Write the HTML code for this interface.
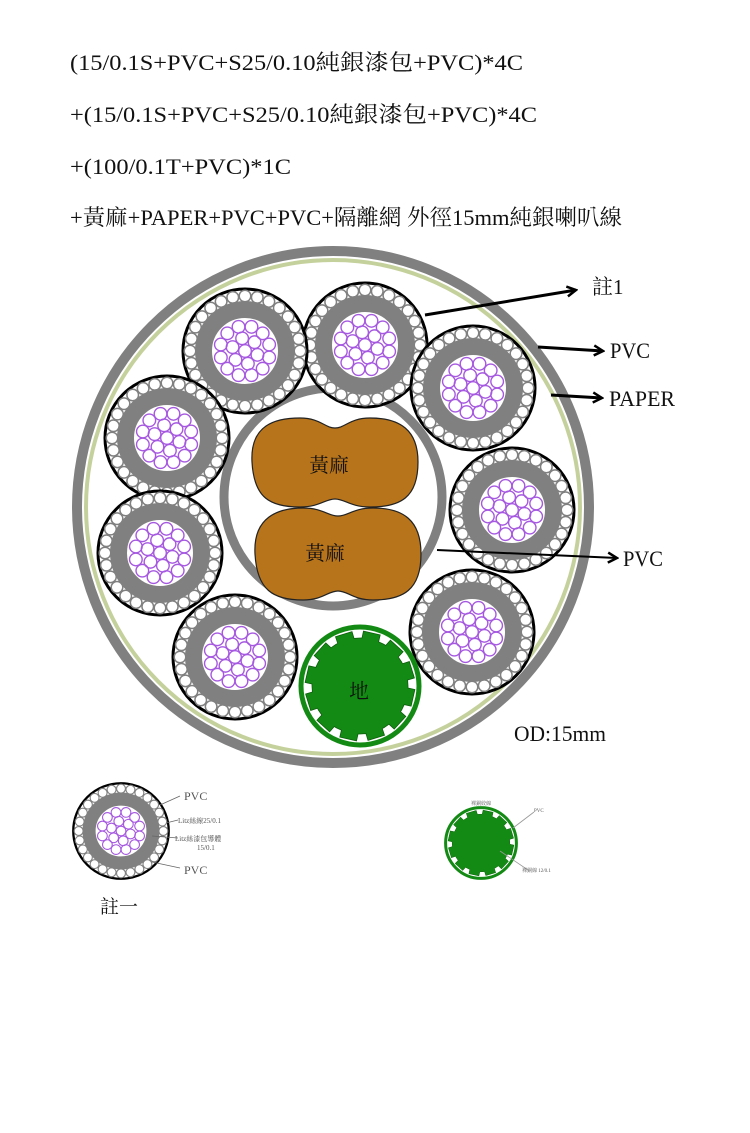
<!DOCTYPE html>
<html><head><meta charset="utf-8"><style>
html,body{margin:0;padding:0;background:#fff;width:750px;height:1133px;overflow:hidden}
svg{display:block}
text{font-family:"Liberation Serif","Noto Serif CJK TC","Noto Serif CJK SC",serif;fill:#111}
</style></head><body>
<svg id="s" width="750" height="1133" viewBox="0 0 750 1133" xmlns="http://www.w3.org/2000/svg">
<defs>
<marker id="ah" markerWidth="12" markerHeight="12" refX="10" refY="6" orient="auto" markerUnits="userSpaceOnUse">
<path d="M1,1 L10,6 L1,11" fill="none" stroke="#000" stroke-width="2.5"/>
</marker>
</defs>
<text x="70" y="70" font-size="22" textLength="453" lengthAdjust="spacingAndGlyphs">(15/0.1S+PVC+S25/0.10純銀漆包+PVC)*4C</text>
<text x="70" y="122" font-size="22" textLength="467" lengthAdjust="spacingAndGlyphs">+(15/0.1S+PVC+S25/0.10純銀漆包+PVC)*4C</text>
<text x="70" y="174" font-size="22" textLength="221" lengthAdjust="spacingAndGlyphs">+(100/0.1T+PVC)*1C</text>
<text x="70" y="225" font-size="22" textLength="552" lengthAdjust="spacingAndGlyphs">+黃麻+PAPER+PVC+PVC+隔離網 外徑15mm純銀喇叭線</text>

<circle cx="333" cy="507" r="256" fill="#fff" stroke="#808080" stroke-width="10"/>
<circle cx="333" cy="507" r="247" fill="none" stroke="#c5d19c" stroke-width="4"/>
<circle cx="333" cy="497" r="109" fill="#fff" stroke="#808080" stroke-width="9"/>
<g id="els"></g>
<path d="M252,462 C250,425 275,418 300,418 C320,418 325,428 335,428 C345,428 350,418 370,418 C400,418 418,430 418,462 C418,498 400,507 370,507 C350,507 345,499 335,499 C325,499 320,507 300,507 C270,507 254,498 252,462 Z" fill="#b8741a" stroke="#222" stroke-width="1.2"/>
<path d="M255,554 C253,517 278,508 303,508 C323,508 328,516 338,516 C348,516 353,508 373,508 C403,508 421,520 421,554 C421,590 403,600 373,600 C353,600 348,591 338,591 C328,591 323,600 303,600 C273,600 257,590 255,554 Z" fill="#b8741a" stroke="#222" stroke-width="1.2"/>
<text x="309" y="472" font-size="20">黃麻</text>
<text x="305" y="560" font-size="20">黃麻</text>
<g id="gnd"></g>
<text x="349" y="698" font-size="20">地</text>

<line x1="425" y1="315" x2="576" y2="290" stroke="#000" stroke-width="3" marker-end="url(#ah)"/>
<text x="592" y="294" font-size="21">註1</text>
<line x1="538" y1="347" x2="603" y2="351" stroke="#000" stroke-width="3" marker-end="url(#ah)"/>
<text x="610" y="358" font-size="22" textLength="40" lengthAdjust="spacingAndGlyphs">PVC</text>
<line x1="551" y1="395" x2="602" y2="398" stroke="#000" stroke-width="3" marker-end="url(#ah)"/>
<text x="609" y="406" font-size="22" textLength="66" lengthAdjust="spacingAndGlyphs">PAPER</text>
<line x1="437" y1="550" x2="617" y2="558" stroke="#000" stroke-width="2" marker-end="url(#ah)"/>
<text x="623" y="566" font-size="22" textLength="40" lengthAdjust="spacingAndGlyphs">PVC</text>
<text x="514" y="741" font-size="22" textLength="92" lengthAdjust="spacingAndGlyphs">OD:15mm</text>

<g id="small"></g>
<line x1="160" y1="805" x2="180" y2="796" stroke="#666" stroke-width="0.8"/>
<text x="184" y="800" font-size="12" style="fill:#555">PVC</text>
<line x1="166" y1="823" x2="178" y2="820" stroke="#666" stroke-width="0.8"/>
<text x="178" y="823" font-size="7" style="fill:#555">Litz絲線25/0.1</text>
<line x1="152" y1="836" x2="178" y2="838" stroke="#666" stroke-width="0.8"/>
<text x="175" y="841" font-size="7" style="fill:#555">Litz絲漆包導體</text>
<text x="197" y="850" font-size="7" style="fill:#555">15/0.1</text>
<line x1="152" y1="862" x2="180" y2="868" stroke="#666" stroke-width="0.8"/>
<text x="184" y="874" font-size="12" style="fill:#555">PVC</text>
<text x="100" y="913" font-size="19">註一</text>

<g id="sg"></g>
<text x="471" y="805" font-size="5" style="fill:#555">裸銅絞線</text>
<line x1="513" y1="828" x2="534" y2="812" stroke="#999" stroke-width="0.8"/>
<text x="534" y="812" font-size="5" style="fill:#555">PVC</text>
<line x1="500" y1="851" x2="528" y2="870" stroke="#999" stroke-width="0.8"/>
<text x="522" y="872" font-size="5" style="fill:#555">裸銅線 12/0.1</text>
</svg>
<script>
var NS="http://www.w3.org/2000/svg";
function el(p,t,a){var e=document.createElementNS(NS,t);for(var k in a)e.setAttribute(k,a[k]);p.appendChild(e);return e;}
function cable(g,cx,cy,s){
  el(g,"circle",{cx:cx,cy:cy,r:62*s,fill:"#fff",stroke:"#000","stroke-width":3*s});
  var n=28;
  for(var i=0;i<n;i++){var a=i/n*2*Math.PI;
    el(g,"circle",{cx:cx+55*s*Math.cos(a),cy:cy+55*s*Math.sin(a),r:5.8*s,fill:"#fff",stroke:"#808080","stroke-width":1.5*s});}
  el(g,"circle",{cx:cx,cy:cy,r:41.5*s,fill:"#fff",stroke:"#808080","stroke-width":17*s});
  var pts=[[0,0]];
  for(var i=0;i<6;i++){var a=i/6*2*Math.PI+0.3;pts.push([13*Math.cos(a),13*Math.sin(a)]);}
  for(var i=0;i<12;i++){var a=(i+0.5)/12*2*Math.PI;pts.push([25*Math.cos(a),25*Math.sin(a)]);}
  pts.forEach(function(p){el(g,"circle",{cx:cx+p[0]*s,cy:cy+p[1]*s,r:6.3*s,fill:"none",stroke:"#a659e0","stroke-width":1.4*s});});
}
var g=document.getElementById("els");
[[365,345],[245,351],[167,438],[160,553],[235,657],[473,388],[512,510],[472,632]].forEach(function(c){cable(g,c[0],c[1],1);});
function gear(g,cx,cy,s){
  el(g,"circle",{cx:cx,cy:cy,r:59*s,fill:"#fff",stroke:"#138a13","stroke-width":5*s});
  var d="",N=12;
  for(var i=0;i<N;i++){
    var a0=i/N*2*Math.PI, w=2*Math.PI/N;
    var pts=[[a0,48],[a0+w*0.08,48],[a0+w*0.12,55],[a0+w*0.72,55],[a0+w*0.76,48],[a0+w,48]];
    pts.forEach(function(p,j){d+=(i==0&&j==0?"M":"L")+(cx+p[1]*s*Math.cos(p[0])).toFixed(1)+","+(cy+p[1]*s*Math.sin(p[0])).toFixed(1)+" ";});
  }
  el(g,"path",{d:d+"Z",fill:"#138a13",stroke:"#0d5c0d","stroke-width":0.8*s});
}
gear(document.getElementById("gnd"),360,686,1);
cable(document.getElementById("small"),121,831,0.77);
gear(document.getElementById("sg"),481,843,0.6);
</script>
</body></html>
